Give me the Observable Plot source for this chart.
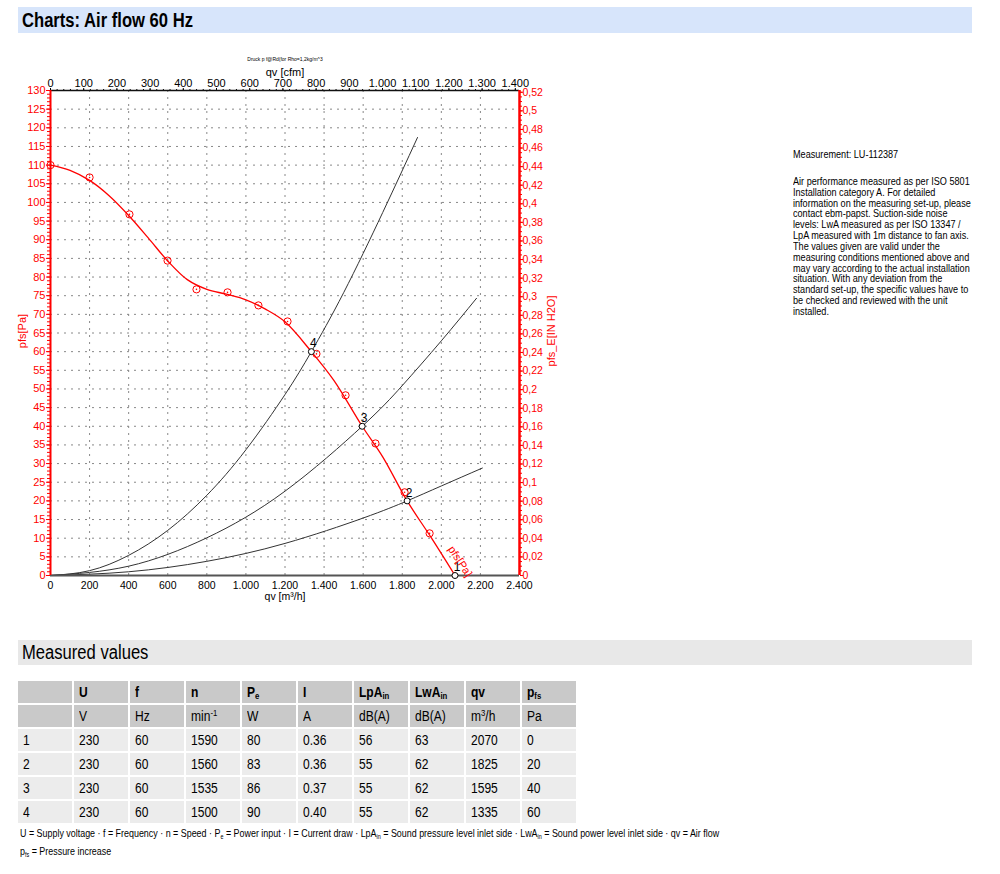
<!DOCTYPE html>
<html><head><meta charset="utf-8">
<script src="https://cdn.jsdelivr.net/npm/d3@7"></script>
<script src="https://cdn.jsdelivr.net/npm/@observablehq/plot@0.6"></script>
<style>
body{margin:0;background:#fff;width:1000px;height:874px;position:relative;overflow:hidden;font-family:"Liberation Sans",Arial,sans-serif;color:#000}
.bar{position:absolute;left:18px;width:950px;padding-left:4px;white-space:nowrap}
.nar{display:inline-block;transform:scaleX(.83);transform-origin:0 50%;white-space:nowrap}
#title{top:7px;height:26px;line-height:26px;background:#d7e5fb;font-weight:bold;font-size:20px}
#mv{top:640px;height:25px;line-height:25px;background:#e8e8e8;font-size:20px}
#chart{position:absolute;left:0;top:40px}
#info{position:absolute;left:793px;top:149px;font-size:10.6px;line-height:10.85px;transform:scaleX(.86);transform-origin:0 0;white-space:nowrap}
#info .p{margin-top:16px}
table{position:absolute;left:16px;top:679px;border-collapse:separate;border-spacing:2px;table-layout:fixed;width:562px;font-size:14px}
td{width:49px;height:22px;padding:0 0 0 5px;vertical-align:middle;overflow:visible;white-space:nowrap}
td span{display:inline-block;transform:scaleX(.86);transform-origin:0 50%}
tr.h td{background:#c9c9c9}
tr.h1 td{font-weight:bold}
tr.d td{background:#ececec}
td sub{font-size:9px;vertical-align:-2px;line-height:0}
td sup{font-size:9px;vertical-align:5px;line-height:0}
#foot{position:absolute;left:20px;top:824px;font-size:11.5px;line-height:18px;transform:scaleX(.775);transform-origin:0 0;white-space:nowrap}
#foot sub{font-size:7px;vertical-align:-2px;line-height:0}
</style></head>
<body>
<div class="bar" id="title"><span class="nar">Charts: Air flow 60 Hz</span></div>
<div id="chart"></div>
<div id="info">Measurement: LU-112387<div class="p">Air performance measured as per ISO 5801<br>Installation category A. For detailed<br>information on the measuring set-up, please<br>contact ebm-papst. Suction-side noise<br>levels: LwA measured as per ISO 13347 /<br>LpA measured with 1m distance to fan axis.<br>The values given are valid under the<br>measuring conditions mentioned above and<br>may vary according to the actual installation<br>situation. With any deviation from the<br>standard set-up, the specific values have to<br>be checked and reviewed with the unit<br>installed.</div></div>
<div class="bar" id="mv"><span class="nar">Measured values</span></div>
<table id="tbl"></table>
<div id="foot">U = Supply voltage · f = Frequency · n = Speed · P<sub>e</sub> = Power input · I = Current draw · LpA<sub>in</sub> = Sound pressure level inlet side · LwA<sub>in</sub> = Sound power level inlet side · qv = Air flow<br>p<sub>fs</sub> = Pressure increase</div>
<script>
// ---- chart data ----
const qvTicks = [0, 200, 400, 600, 800, 1000, 1200, 1400, 1600, 1800, 2000, 2200, 2400];
const qvTickLabels = ["0", "200", "400", "600", "800", "1.000", "1.200", "1.400", "1.600", "1.800", "2.000", "2.200", "2.400"];
const pfsTicks = [0, 5, 10, 15, 20, 25, 30, 35, 40, 45, 50, 55, 60, 65, 70, 75, 80, 85, 90, 95, 100, 105, 110, 115, 120, 125, 130];
const cfmTicks = [0, 100, 200, 300, 400, 500, 600, 700, 800, 900, 1000, 1100, 1200, 1300, 1400];
const cfmTickLabels = ["0", "100", "200", "300", "400", "500", "600", "700", "800", "900", "1.000", "1.100", "1.200", "1.300", "1.400"];
const inH2OTicks = [0, 0.02, 0.04, 0.06, 0.08, 0.1, 0.12, 0.14, 0.16, 0.18, 0.2, 0.22, 0.24, 0.26, 0.28, 0.3, 0.32, 0.34, 0.36, 0.38, 0.4, 0.42, 0.44, 0.46, 0.48, 0.5, 0.52];
const inH2OTickLabels = ["0", "0,02", "0,04", "0,06", "0,08", "0,1", "0,12", "0,14", "0,16", "0,18", "0,2", "0,22", "0,24", "0,26", "0,28", "0,3", "0,32", "0,34", "0,36", "0,38", "0,4", "0,42", "0,44", "0,46", "0,48", "0,5", "0,52"];
const M3H_PER_CFM = 1.69901;
const PA_PER_INH2O = 249.089;

// red characteristic curve (pfs over qv)
const lineQv  = [0, 100, 200, 300, 400, 500, 600, 700, 800, 900, 1000, 1100, 1200, 1335, 1450, 1595, 1700, 1825, 1950, 2070];
const linePfs = [110, 108.6, 105.9, 101.8, 96.5, 90.5, 84.3, 79.3, 76.7, 75.4, 73.9, 71.4, 68, 60, 52.3, 40, 31.8, 20, 10, 0];
// red measured markers
const markQv  = [0, 200, 404, 599, 747, 906, 1064, 1213, 1361, 1510, 1663, 1812, 1940];
const markPfs = [110, 106.7, 96.8, 84.4, 76.7, 75.9, 72.4, 68.1, 59.4, 48.3, 35.4, 22.3, 11.3];
// system curves (black)
const sys4Qv  = [0, 200, 400, 600, 800, 1000, 1200, 1335, 1500, 1700, 1878];
const sys4Pfs = [0, 1.3, 5.4, 12.1, 21.5, 33.7, 48.5, 60, 75.8, 97.3, 117.4];
const sys3Qv  = [0, 400, 800, 1200, 1595, 1800, 2000, 2180];
const sys3Pfs = [0, 2.5, 10.1, 22.6, 40, 50.9, 62.9, 74.3];
const sys2Qv  = [0, 400, 800, 1200, 1600, 1825, 2000, 2210];
const sys2Pfs = [0, 1, 3.8, 8.6, 15.4, 20, 24, 28.8];
// operating points
const opLabels = ["1", "2", "3", "4"];
const opQv  = [2070, 1825, 1595, 1335];
const opPfs = [0, 20, 40, 60];

// ---- table data ----
const tblRows = ["1", "2", "3", "4"];
const tblU = [230, 230, 230, 230];
const tblF = [60, 60, 60, 60];
const tblN = [1590, 1560, 1535, 1500];
const tblPe = [80, 83, 86, 90];
const tblI = ["0.36", "0.36", "0.37", "0.40"];
const tblLpA = [56, 55, 55, 55];
const tblLwA = [63, 62, 62, 62];
const tblQv = [2070, 1825, 1595, 1335];
const tblPfs = [0, 20, 40, 60];
const tblHead = ["", "U", "f", "n", "P<sub>e</sub>", "I", "LpA<sub>in</sub>", "LwA<sub>in</sub>", "qv", "p<sub>fs</sub>"];
const tblUnits = ["", "V", "Hz", "min<sup>-1</sup>", "W", "A", "dB(A)", "dB(A)", "m<sup>3</sup>/h", "Pa"];

const qvLabel = new Map(qvTicks.map((v, i) => [v, qvTickLabels[i]]));
const cfmPos = cfmTicks.map(c => c * M3H_PER_CFM);
const cfmLabel = new Map(cfmPos.map((v, i) => [v, cfmTickLabels[i]]));
const inPos = inH2OTicks.map(v => v * PA_PER_INH2O);
const inLabel = new Map(inPos.map((v, i) => [v, inH2OTickLabels[i]]));
const minorPfs = d3.range(0, 131, 1);
const minorIn = d3.range(0, 0.5201, 0.005).map(v => v * PA_PER_INH2O);
const minorCfm = d3.range(0, 1401, 20).map(c => c * M3H_PER_CFM);

const RED = "#ff0000";
const chart = Plot.plot({
  width: 580, height: 570,
  marginLeft: 50, marginRight: 61, marginTop: 50, marginBottom: 35,
  x: {domain: [0, 2400]},
  y: {domain: [0, 130]},
  style: {background: "transparent", fontFamily: "'Liberation Sans', Arial, sans-serif", fontSize: "11px", overflow: "visible"},
  marks: [
    Plot.gridY({ticks: pfsTicks, stroke: "#888", strokeOpacity: 1, strokeDasharray: "2,5", strokeWidth: 1}),
    Plot.gridX({ticks: qvTicks, stroke: "#888", strokeOpacity: 1, strokeDasharray: "2,5", strokeWidth: 1}),
    Plot.line(sys4Qv, {x: sys4Qv, y: sys4Pfs, curve: "natural", stroke: "#333", strokeWidth: 1}),
    Plot.line(sys3Qv, {x: sys3Qv, y: sys3Pfs, curve: "natural", stroke: "#333", strokeWidth: 1}),
    Plot.line(sys2Qv, {x: sys2Qv, y: sys2Pfs, curve: "natural", stroke: "#333", strokeWidth: 1}),
    Plot.line(lineQv, {x: lineQv, y: linePfs, curve: "catmull-rom", stroke: RED, strokeWidth: 1.3}),
    // axes
    Plot.axisY({ticks: minorPfs, anchor: "left", tickSize: 3, tickFormat: () => "", color: RED, label: null}),
    Plot.axisY({ticks: pfsTicks, anchor: "left", tickSize: 4, tickPadding: 1, color: RED, label: null, fontSize: 11}),
    Plot.axisY({ticks: minorIn, anchor: "right", tickSize: 2, tickFormat: () => "", color: RED, label: null}),
    Plot.axisY({ticks: inPos, anchor: "right", tickSize: 3, tickPadding: 0, tickFormat: d => inLabel.get(d), color: RED, label: null, fontSize: 10.5}),
    Plot.axisX({ticks: minorCfm, anchor: "top", tickSize: 2, tickFormat: () => "", label: null}),
    Plot.axisX({ticks: cfmPos, anchor: "top", tickSize: 3, tickPadding: 1, tickFormat: d => cfmLabel.get(d), label: null, fontSize: 11}),
    Plot.axisX({ticks: qvTicks, anchor: "bottom", tickSize: 0, tickPadding: 6, tickFormat: d => qvLabel.get(d), label: null, fontSize: 10.5}),
    Plot.ruleY([0], {stroke: "#555", strokeWidth: 2}),
    Plot.ruleY([130], {stroke: "#111", strokeWidth: 1.5}),
    Plot.ruleX([0], {stroke: RED, strokeWidth: 2}),
    Plot.ruleX([2400], {stroke: RED, strokeWidth: 2.5}),
    // axis titles
    Plot.text(["pfs[Pa]"], {frameAnchor: "left", dx: -28, dy: -2, rotate: -90, fill: RED, textAnchor: "middle", lineAnchor: "middle", fontSize: 11}),
    Plot.text(["pfs_E[IN H2O]"], {frameAnchor: "right", dx: 32, dy: -2, rotate: -90, fill: RED, textAnchor: "middle", lineAnchor: "middle", fontSize: 11}),
    Plot.text(["qv [m³/h]"], {frameAnchor: "bottom", dy: 21, textAnchor: "middle", lineAnchor: "middle", fontSize: 10.5}),
    Plot.text(["qv [cfm]"], {frameAnchor: "top", dy: -18, textAnchor: "middle", lineAnchor: "middle", fontSize: 11}),
    Plot.text(["Druck p f@Rd(for Rho=1,2kg/m^3"], {frameAnchor: "top", dy: -31, textAnchor: "middle", lineAnchor: "middle", fontSize: 5}),
    // markers
    Plot.dot(markQv, {x: markQv, y: markPfs, r: 3.6, stroke: RED, fill: "none", strokeWidth: 1}),
    Plot.dot(markQv, {x: markQv, y: markPfs, r: 0.8, fill: RED}),
    Plot.dot(opQv, {x: opQv, y: opPfs, r: 3, stroke: "#000", fill: "#fff", strokeWidth: 1}),
    Plot.text(opQv, {x: opQv, y: opPfs, text: opLabels, dx: 2, dy: -8, fontSize: 12, fill: "#000"}),
    Plot.text(["pfs[Pa]"], {x: [lineQv[lineQv.length - 1]], y: [linePfs[linePfs.length - 1]], dx: 5, dy: -14, rotate: 57, fill: RED, fontSize: 11, textAnchor: "middle"})
  ]
});
document.getElementById("chart").appendChild(chart);

// table
const tbl = document.getElementById("tbl");
const cell = c => `<td><span>${c}</span></td>`;
let html = `<tr class="h h1">${tblHead.map(cell).join("")}</tr>`;
html += `<tr class="h">${tblUnits.map(cell).join("")}</tr>`;
tblRows.forEach((r, i) => {
  const cells = [r, tblU[i], tblF[i], tblN[i], tblPe[i], tblI[i], tblLpA[i], tblLwA[i], tblQv[i], tblPfs[i]];
  html += `<tr class="d">${cells.map(cell).join("")}</tr>`;
});
tbl.innerHTML = html;
</script>
</body></html>
